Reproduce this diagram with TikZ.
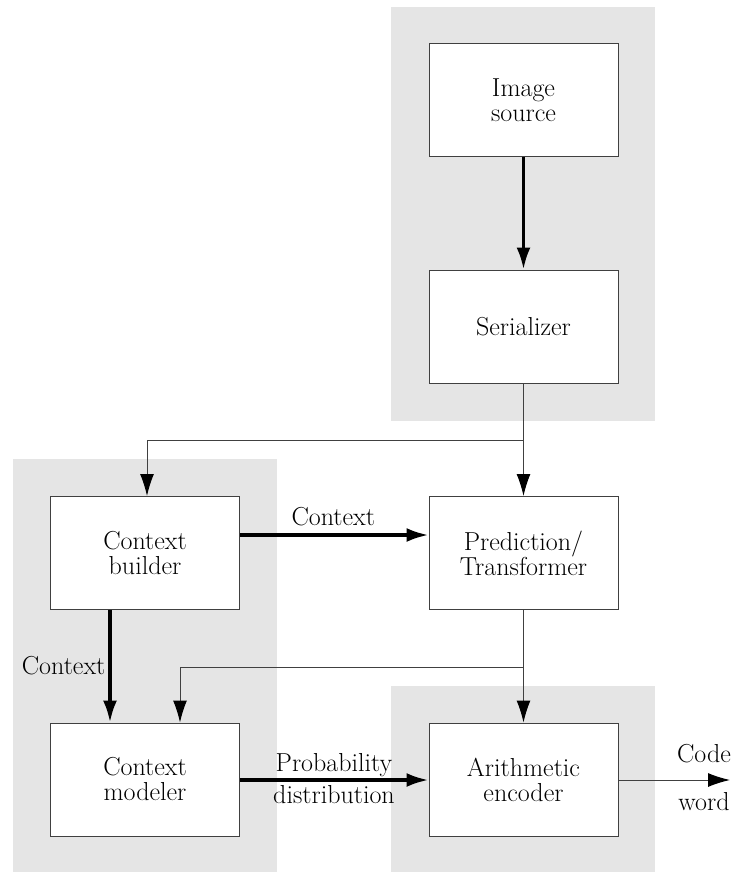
\documentclass[tikz,border=0pt]{standalone}
\usetikzlibrary{arrows.meta}
\definecolor{panel}{HTML}{E5E5E5}
\definecolor{edge}{HTML}{404040}
\begin{document}
\begin{tikzpicture}[x=1pt,y=-1pt,
  every node/.style={font=\fontsize{26}{25}\selectfont},
  blk/.style={draw=edge,line width=1pt,fill=white,minimum width=189pt,minimum height=113pt,inner sep=0pt,align=center},
  thickarrow/.style={line width=3.4pt,-{Latex[length=22pt,width=14pt]}},
  thinarrow/.style={draw=edge,line width=1pt,-{Latex[length=22pt,width=14pt,color=black]}},
  thinline/.style={draw=edge,line width=1pt},
  lbl/.style={inner sep=0pt,align=center}]
\useasboundingbox (0,0) rectangle (736,873);
% panels
\fill[panel] (391,7) rectangle (655,421);
\fill[panel] (13,459) rectangle (277,872);
\fill[panel] (391,686) rectangle (655,872);
% blocks
\node[blk] (img) at (523.5,100) {Image\\source};
\node[blk] (ser) at (523.5,326.5) {Serializer};
\node[blk] (cb) at (145,553) {Context\\builder};
\node[blk] (pt) at (523.5,553) {Prediction/\\Transformer};
\node[blk] (cm) at (145,779.5) {Context\\modeler};
\node[blk] (ae) at (523.5,779.5) {Arithmetic\\encoder};
% junctions
\coordinate (j1) at (523.5,440);
\coordinate (j2) at (523.5,667);
\coordinate (out) at (730,780);
% connectors
\draw[thickarrow] (img) -- (ser);
\draw[thinline] (ser.south) -- (j1);
\draw[thinarrow] (j1) -| (cb.north -| 147,0);
\draw[thinarrow] (j1) -- (pt.north);
\draw[thickarrow] (cb.east |- 0,535) -- (pt.west |- 0,535) node[lbl,midway,above=7pt,xshift=-1pt] {Context};
\draw[thickarrow] (cb.south -| 110,0) -- (cm.north -| 110,0) node[lbl,midway,left=3pt,yshift=1pt] {Context};
\draw[thinline] (pt.south) -- (j2);
\draw[thinarrow] (j2) -| (cm.north -| 180,0);
\draw[thinarrow] (j2) -- (ae.north);
\draw[thickarrow] (cm.east |- 0,780) -- (ae.west |- 0,780);
\node[lbl] (prob) at (334,765) {Probability};
\node[lbl] (dist) at (334,795) {distribution};
\draw[thinarrow] (ae.east |- 0,780) -- (out);
\node[lbl] (code) at (704,754) {Code};
\node[lbl] (word) at (704,802) {word};
\end{tikzpicture}
\end{document}
